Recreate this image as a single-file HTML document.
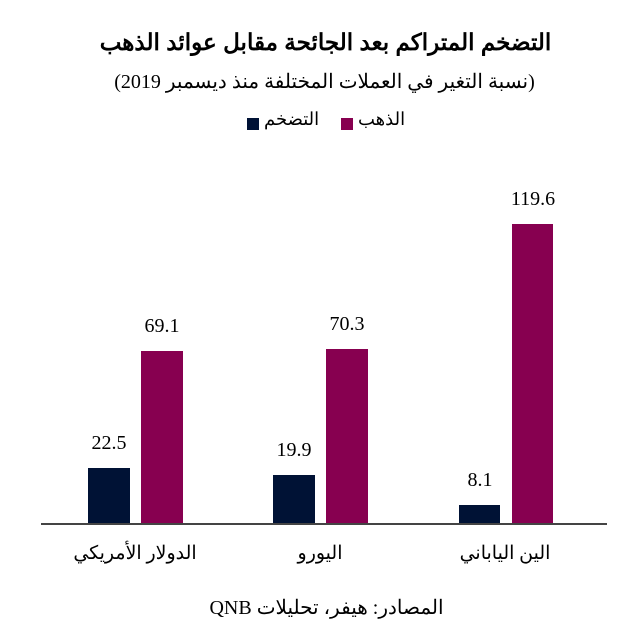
<!DOCTYPE html>
<html><head><meta charset="utf-8"><style>
body{margin:0;background:#fff;width:637px;height:634px;position:relative;overflow:hidden;font-family:"Liberation Serif","Noto Serif CJK SC",serif;color:#000}
.a{position:absolute}
.t{position:absolute;left:0;width:637px;text-align:center;white-space:nowrap}
.n{background:#001235}
.m{background:#870050}
.v{position:absolute;width:80px;text-align:center;font-size:20px}
.l{position:absolute;width:200px;text-align:center;font-size:19px;direction:rtl}
</style></head><body>
<div class="t" style="top:29px;left:7px;font-size:23px;font-weight:bold;direction:rtl;font-family:'Liberation Sans','Noto Sans CJK SC',sans-serif;">التضخم المتراكم بعد الجائحة مقابل عوائد الذهب</div>
<div class="t" style="top:69px;left:6px;font-size:20px;direction:rtl">(نسبة التغير في العملات المختلفة منذ ديسمبر 2019)</div>
<div class="a n" style="left:247px;top:118px;width:12px;height:12px"></div>
<div class="a" style="left:264px;top:109px;font-size:18px">التضخم</div>
<div class="a m" style="left:341px;top:118px;width:12px;height:12px"></div>
<div class="a" style="left:358px;top:109px;font-size:18px">الذهب</div>

<div class="a n" style="left:88px;top:468px;width:42px;height:56px"></div>
<div class="a m" style="left:141px;top:351px;width:42px;height:173px"></div>
<div class="a n" style="left:273px;top:475px;width:42px;height:49px"></div>
<div class="a m" style="left:326px;top:349px;width:42px;height:175px"></div>
<div class="a n" style="left:459px;top:505px;width:41px;height:19px"></div>
<div class="a m" style="left:512px;top:224px;width:41px;height:300px"></div>
<div class="a" style="left:41px;top:523px;width:566px;height:2px;background:#444"></div>

<div class="v" style="left:69px;top:432px">22.5</div>
<div class="v" style="left:122px;top:315px">69.1</div>
<div class="v" style="left:254px;top:439px">19.9</div>
<div class="v" style="left:307px;top:313px">70.3</div>
<div class="v" style="left:440px;top:469px">8.1</div>
<div class="v" style="left:493px;top:188px">119.6</div>

<div class="l" style="left:35px;top:542px">الدولار الأمريكي</div>
<div class="l" style="left:220px;top:542px">اليورو</div>
<div class="l" style="left:405px;top:542px">الين الياباني</div>
<div class="t" style="top:595px;font-size:20px;direction:rtl;left:8px">المصادر: هيفر، تحليلات QNB</div>
</body></html>
